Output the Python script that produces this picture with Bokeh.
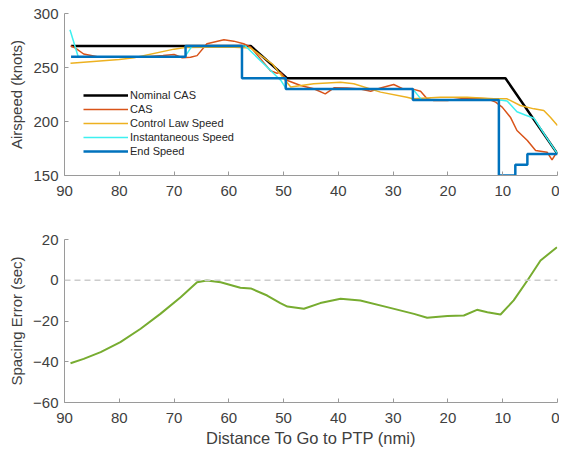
from bokeh.plotting import figure
from bokeh.layouts import column
from bokeh.models import Range1d, Legend, LegendItem, FixedTicker, Span
from bokeh.embed import file_html
from bokeh.resources import INLINE

# ---------------- data ----------------
nominal_dist = [88.8, 56.0, 49.4, 9.5, 0.0]
nominal_cas = [270, 270, 240, 240, 170]

cas_dist = [88.9, 88.0, 86.5, 84.0, 80.0, 75.0, 72.0, 70.0, 68.5, 67.0, 65.8, 64.0, 60.9, 59.1,
            57.3, 56.0, 54.2, 52.4, 51.2, 50.6, 49.3, 46.9, 44.5, 42.4, 40.8, 38.4, 36.0, 34.1,
            32.3, 29.9, 28.1, 26.4, 25.0, 23.8, 22.6, 20.1, 16.5, 12.8, 11.3, 10.1, 8.6, 7.4,
            5.5, 4.0, 1.9, 1.0, 0.4, 0.0]
cas_speed = [270, 268, 262.5, 260, 259.5, 260, 261, 262, 259, 259.5, 261, 272, 275.6, 274.4,
             272, 268.8, 258, 247, 244.7, 245.5, 238, 233.3, 230.3, 225.6, 231.2, 231, 230, 228,
             231, 234.3, 230, 230, 228, 221, 219.4, 219.4, 221.8, 221, 217.9, 213.3, 204, 191.7,
             182.4, 173.1, 171.6, 164.5, 169.4, 170]

clw_dist = [88.9, 80.0, 77.3, 70.0, 68.0, 60.0, 56.0, 52.0, 50.0, 48.7, 44.5, 39.6, 37.2, 32.3,
            27.5, 26.4, 21.4, 16.5, 11.6, 9.2, 6.8, 4.3, 2.5, 1.3, 0.0]
clw_speed = [254, 257.5, 259, 267, 268.5, 269, 268, 253, 240, 232, 235, 236.4, 235, 227.2,
             222.5, 221, 222.5, 222.5, 221, 221, 214.8, 211.7, 210.2, 204, 196.3]

inst_dist = [89.0, 87.5, 68.0, 66.7, 57.0, 50.5, 49.5, 26.4, 24.8, 10.5, 9.2, 7.4, 5.9, 4.3, 2.0, 0.0]
inst_speed = [285, 260, 260, 270, 270, 238, 230, 230, 220, 220, 219, 209, 206, 203, 185, 170]

end_dist = [88.8, 67.9, 57.6, 49.6, 26.4, 10.7, 7.7, 5.5, 0.0]
end_speed = [260, 270, 240, 230, 220, 150, 160, 170, 170]

err_dist = [88.9, 86.5, 83.4, 79.8, 76.1, 72.5, 68.8, 65.8, 64.0, 61.5, 57.9, 56.0, 53.0, 50.6,
            49.3, 46.3, 43.3, 39.6, 36.0, 31.1, 26.2, 23.8, 20.1, 17.1, 14.7, 12.8, 10.4, 8.0,
            5.5, 3.1, 0.1]
spacing_error = [-40.7, -38.6, -35.3, -30.4, -23.8, -16.5, -8.3, -1.0, -0.1, -1.0, -3.7, -4.0,
                 -7.5, -11.2, -12.9, -14.0, -11.2, -9.1, -9.9, -13.2, -16.5, -18.4, -17.6, -17.3,
                 -14.5, -15.7, -16.8, -9.9, -0.1, 9.7, 16.2]

x_ticks = [0, 10, 20, 30, 40, 50, 60, 70, 80, 90]
top_y_ticks = [150, 200, 250, 300]
bottom_y_ticks = [-60, -40, -20, 0, 20]

FONT = "Liberation Sans"
TXT = "#404040"
AX = "#9a9a9a"


def style(p):
    p.outline_line_color = None
    p.xgrid.visible = False
    p.ygrid.visible = False
    for ax in (p.xaxis[0], p.yaxis[0]):
        ax.axis_line_color = AX
        ax.major_tick_line_color = AX
        ax.major_tick_in = 4
        ax.major_tick_out = 0
        ax.minor_tick_line_color = None
        ax.major_label_text_font = FONT
        ax.major_label_text_font_size = "15px"
        ax.major_label_text_color = TXT
        ax.axis_label_text_font = FONT
        ax.axis_label_text_font_size = "15px"
        ax.axis_label_text_color = TXT
        ax.axis_label_text_font_style = "normal"
    p.xaxis[0].ticker = FixedTicker(ticks=x_ticks)
    p.xaxis[0].major_label_standoff = 10
    p.yaxis[0].major_label_standoff = 6


# ---------------- top plot ----------------
p1 = figure(width=559, height=223, output_backend="svg", toolbar_location=None,
            x_range=Range1d(90, 0), y_range=Range1d(150, 300),
            min_border_left=64, min_border_right=2, min_border_top=13, min_border_bottom=48)
style(p1)
p1.yaxis[0].ticker = FixedTicker(ticks=top_y_ticks)
p1.yaxis[0].axis_label = "Airspeed (knots)"
p1.yaxis[0].axis_label_standoff = 5

r_nom = p1.line(nominal_dist, nominal_cas, line_color="#000000", line_width=2.5)
r_cas = p1.line(cas_dist, cas_speed, line_color="#D95319", line_width=1.5)
r_clw = p1.line(clw_dist, clw_speed, line_color="#EDB120", line_width=1.5)
r_inst = p1.line(inst_dist, inst_speed, line_color="#3DF0F0", line_width=1.5)
r_end = p1.step(end_dist, end_speed, mode="after", line_color="#0072BD", line_width=2.5)

legend = Legend(items=[
    LegendItem(label="Nominal CAS", renderers=[r_nom]),
    LegendItem(label="CAS", renderers=[r_cas]),
    LegendItem(label="Control Law Speed", renderers=[r_clw]),
    LegendItem(label="Instantaneous Speed", renderers=[r_inst]),
    LegendItem(label="End Speed", renderers=[r_end]),
], location=(19, 17))
legend.border_line_color = None
legend.background_fill_alpha = 0
legend.label_text_font = FONT
legend.label_text_font_size = "11px"
legend.label_text_color = "#262626"
legend.glyph_width = 45
legend.glyph_height = 14
legend.label_height = 14
legend.spacing = 0
legend.padding = 4
legend.label_standoff = 2
p1.add_layout(legend)

# ---------------- bottom plot ----------------
p2 = figure(width=559, height=228, output_backend="svg", toolbar_location=None,
            x_range=Range1d(90, 0), y_range=Range1d(-60, 20),
            min_border_left=64, min_border_right=2, min_border_top=16, min_border_bottom=49)
style(p2)
p2.yaxis[0].ticker = FixedTicker(ticks=bottom_y_ticks)
p2.yaxis[0].axis_label = "Spacing Error (sec)"
p2.yaxis[0].axis_label_standoff = 5
p2.xaxis[0].axis_label = "Distance To Go to PTP (nmi)"
p2.xaxis[0].axis_label_text_font_size = "16.5px"
p2.xaxis[0].axis_label_standoff = 3

zero = Span(location=0, dimension="width", line_color="#cccccc", line_width=1.5,
            line_dash="6 4")
p2.add_layout(zero)
p2.line(err_dist, spacing_error, line_color="#77AC30", line_width=2)

layout = column(p1, p2)
open("out.html", "w").write(file_html(layout, INLINE))
